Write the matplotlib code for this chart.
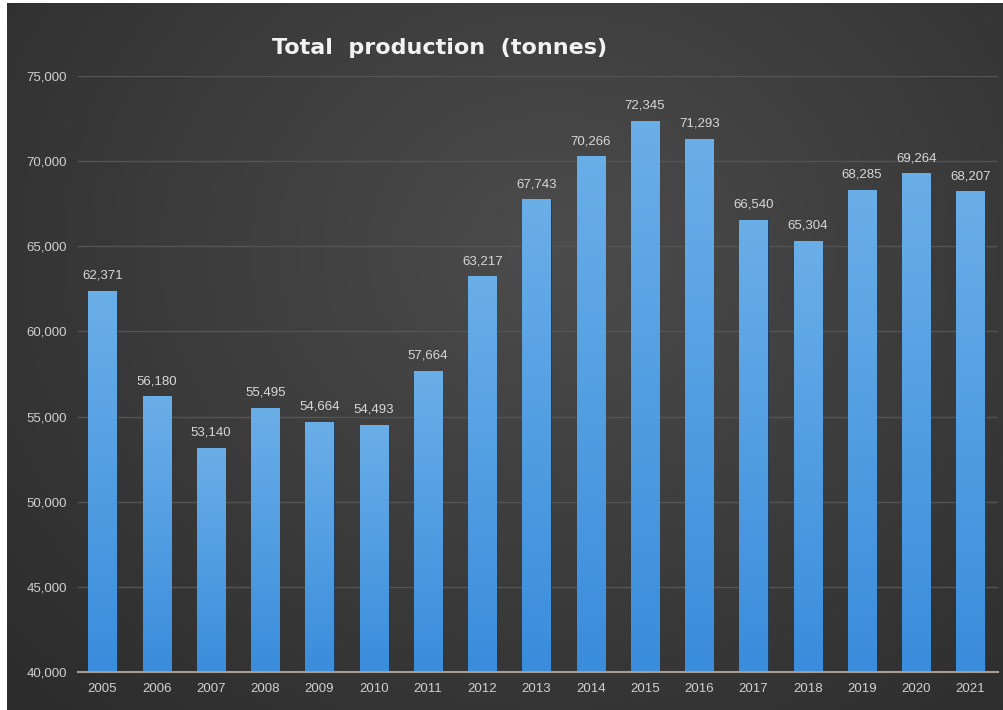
import numpy as np
import matplotlib.pyplot as plt
from matplotlib.colors import LinearSegmentedColormap

years = ["2005", "2006", "2007", "2008", "2009", "2010", "2011", "2012", "2013",
         "2014", "2015", "2016", "2017", "2018", "2019", "2020", "2021"]
production = [62371, 56180, 53140, 55495, 54664, 54493, 57664, 63217, 67743,
              70266, 72345, 71293, 66540, 65304, 68285, 69264, 68207]
y_ticks = [40000, 45000, 50000, 55000, 60000, 65000, 70000, 75000]

fig = plt.figure(figsize=(10.04, 7.10), dpi=100, facecolor="white")

# fond sombre en dégradé radial
bg = fig.add_axes([0.007, 0.0, 0.993, 0.996])
bg.axis("off")
gx, gy = np.meshgrid(np.linspace(0, 1, 300), np.linspace(0, 1, 220))
d = np.sqrt(((gx - 0.55) / 0.75) ** 2 + ((gy - 0.35) / 0.9) ** 2)
fond = LinearSegmentedColormap.from_list("fond", ["#4c4c4c", "#3c3c3c", "#2c2c2c"])
bg.imshow(np.clip(d, 0, 1), cmap=fond, aspect="auto", extent=[0, 1, 0, 1],
          origin="upper", vmin=0, vmax=1)

ax = fig.add_axes([0.0777, 0.0535, 0.916, 0.8395])
ax.patch.set_alpha(0)

x = np.arange(len(years))
bars = ax.bar(x, production, width=0.52, color="#4a9be0",
              edgecolor="#1f3f60", linewidth=0.8, zorder=2)

# dégradé dans chaque barre
bleu = LinearSegmentedColormap.from_list("bleu", ["#3a8ddc", "#6aaee8"])
grad = np.linspace(0, 1, 100).reshape(-1, 1)
for b in bars:
    x0, w, h = b.get_x(), b.get_width(), b.get_height()
    ax.imshow(grad, cmap=bleu, aspect="auto", origin="lower",
              extent=[x0, x0 + w, 40000, h], zorder=2.5)

for xi, v in zip(x, production):
    ax.text(xi, v + 550, f"{v:,}", ha="center", va="bottom",
            color="#d8d8d8", fontsize=9.5, family="Liberation Sans")

ax.set_xlim(-0.45, len(years) - 0.5)
ax.set_ylim(40000, 75000)
ax.set_yticks(y_ticks)
ax.set_yticklabels([f"{t:,}" for t in y_ticks])
ax.set_xticks(x)
ax.set_xticklabels(years)
ax.grid(axis="y", color="#545454", linewidth=1, zorder=0)
for s in ["top", "right", "left"]:
    ax.spines[s].set_visible(False)
ax.spines["bottom"].set_color("#a89c90")
ax.spines["bottom"].set_linewidth(1.5)
ax.spines["bottom"].set_zorder(3)
ax.tick_params(length=0, colors="#d0d0d0", labelsize=9.5, pad=8)
for lab in ax.get_xticklabels() + ax.get_yticklabels():
    lab.set_family("Liberation Sans")

fig.text(0.438, 0.933, "Total  production  (tonnes)", ha="center", va="center",
         color="#f2f2f2", fontsize=16, fontweight="bold")

fig.savefig("out.png", dpi=100)
